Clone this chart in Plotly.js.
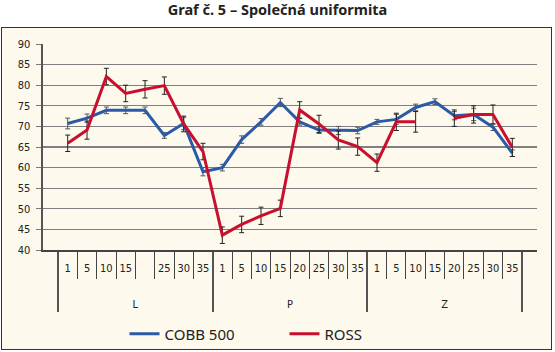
<!DOCTYPE html>
<html>
<head>
<meta charset="utf-8">
<script src="https://cdn.plot.ly/plotly-3.0.1.min.js"></script>
<style>
html,body{margin:0;padding:0;background:#fff;}
#frame{position:absolute;left:1px;top:27px;width:549px;height:321px;border:1.5px solid #333;background:#fdf9ec;}
#chart{position:absolute;left:0;top:0;width:555px;height:352px;}
</style>
</head>
<body>
<div id="frame"></div>
<div id="chart"></div>
<script>
const groupNames = ['L','P','Z'];
const daysL = ['1','5','10','15',' ','25','30','35'];
const daysPZ = ['1','5','10','15','20','25','30','35'];
const cobb = [70.7,72.0,73.9,73.9,73.9,67.8,70.7,59.0, 60.0,66.8,71.1,75.8,71.1,69.1,69.0,69.0, 71.1,71.7,74.6,76.0,72.6,72.9,69.8,63.5];
const cobbErr = [1.3,1.0,0.8,0.8,0.8,0.7,1.5,1.0, 0.8,0.9,0.8,1.0,0.8,0.8,1.0,0.8, 0.6,1.2,0.8,0.7,1.0,1.5,0.8,0.8];
const ross = [65.9,69.1,82.1,78.0,79.0,79.9,70.6,63.9, 43.6,46.2,48.3,50.1,74.0,70.6,66.7,65.1, 61.2,71.1,71.1,null,72.0,72.9,72.9,64.9];
const rossErr = [2.0,2.2,2.0,2.0,2.1,2.1,1.9,2.0, 2.0,2.0,2.1,2.0,2.0,2.1,2.2,2.1, 2.1,2.1,2.5,0,2.0,2.1,2.3,2.2];
const yTicks = [40,45,50,55,60,65,70,75,80,85,90];

// two-level category arrays; the zero-width mark keeps P/Z day order independent of L's blank slot,
// the trailing empty lines leave room between the day row and the L/P/Z row
const groups = [], days = [];
groupNames.forEach((g, gi) => {
  const src = gi === 0 ? daysL : daysPZ;
  src.forEach(d => {
    groups.push(g);
    days.push(d + (gi === 0 ? '' : '\u200b') + '<br>\u00a0<br>\u00a0');
  });
});

const fontC = 'DejaVu Sans Condensed, Liberation Sans Narrow, Liberation Sans, sans-serif';

const traces = [
  {type:'scatter', mode:'lines', name:'COBB 500', x:[groups, days], y:cobb,
   line:{color:'#2a5aa8', width:3},
   error_y:{type:'data', array:cobbErr, visible:true, color:'#555', thickness:1, width:2.5}},
  {type:'scatter', mode:'lines', name:'ROSS', x:[groups, days], y:ross, connectgaps:false,
   line:{color:'#c8102e', width:3},
   error_y:{type:'data', array:rossErr, visible:true, color:'#222', thickness:1, width:2.5}}
];

const layout = {
  width:555, height:352,
  paper_bgcolor:'rgba(0,0,0,0)', plot_bgcolor:'rgba(0,0,0,0)',
  margin:{l:42.5, r:18.2, t:44, b:102, autoexpand:false},
  title:{text:'<b>Graf č. 5 – Společná uniformita</b>', x:0.5, xref:'container', y:0.972, yanchor:'middle',
         font:{family:'Noto Sans, sans-serif', size:14.5, color:'#222'}},
  showlegend:true,
  legend:{orientation:'h', x:0.165, xanchor:'left', y:-0.408, yanchor:'middle',
          font:{family:'Noto Sans, sans-serif', size:15, color:'#222'},
          bgcolor:'rgba(0,0,0,0)', entrywidth:115, entrywidthmode:'pixels'},
  xaxis:{type:'multicategory', showgrid:false, showline:true, linecolor:'#444', linewidth:1.5,
         ticks:'outside', ticklen:27, tickcolor:'#444', tickwidth:1, tickangle:0,
         ticklabelstandoff:7,
         showdividers:true, dividercolor:'#555', dividerwidth:2,
         tickfont:{family:fontC, size:11, color:'#222'}},
  yaxis:{range:[40,90], tickvals:yTicks, showgrid:true, gridcolor:'#808080', gridwidth:1.3,
         showline:true, linecolor:'#555', linewidth:2.5, ticks:'outside', ticklen:5, tickcolor:'#777',
         zeroline:false, ticklabelstandoff:3,
         tickfont:{family:fontC, size:11, color:'#222'}}
};

Plotly.newPlot('chart', traces, layout, {displayModeBar:false, staticPlot:true});
</script>
</body>
</html>
